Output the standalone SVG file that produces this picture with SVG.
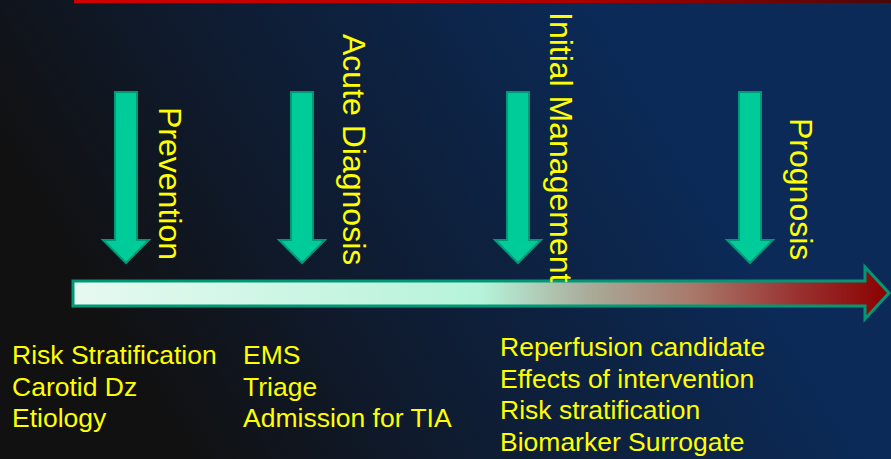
<svg xmlns="http://www.w3.org/2000/svg" width="891" height="459" viewBox="0 0 891 459">
  <defs>
    <linearGradient id="bg" gradientUnits="userSpaceOnUse" x1="150" y1="400" x2="650" y2="100">
      <stop offset="0" stop-color="#111111"/>
      <stop offset="0.35" stop-color="#0f1a2c"/>
      <stop offset="1" stop-color="#0b2a57"/>
    </linearGradient>
    <linearGradient id="redbar" gradientUnits="userSpaceOnUse" x1="74" y1="0" x2="891" y2="0">
      <stop offset="0" stop-color="#d00000"/>
      <stop offset="0.6" stop-color="#b00000"/>
      <stop offset="1" stop-color="#4a0808"/>
    </linearGradient>
    <linearGradient id="timeline" gradientUnits="userSpaceOnUse" x1="73" y1="0" x2="889" y2="0">
      <stop offset="0" stop-color="#e6f9f0"/>
      <stop offset="0.5" stop-color="#b6f3da"/>
      <stop offset="0.63" stop-color="#aaac9a"/>
      <stop offset="0.76" stop-color="#a8786a"/>
      <stop offset="0.89" stop-color="#9a3030"/>
      <stop offset="1" stop-color="#8b0000"/>
    </linearGradient>
    <style>
      .down { fill: #00cc99; stroke: #009977; stroke-width: 2; stroke-linejoin: miter; }
      .vlabel { font-family: "Liberation Sans", Arial, sans-serif; font-size: 32px; fill: #ffff00; }
      .list { font-family: "Liberation Sans", Arial, sans-serif; font-size: 26.5px; fill: #ffff00; }
    </style>
  </defs>

  <rect x="0" y="0" width="891" height="459" fill="url(#bg)"/>
  <rect x="74" y="0" width="817" height="3" fill="url(#redbar)"/>

  <g id="connectors">
    <path id="timeline-arrow" d="M73,281 H865 V267 L889,293 L865,319 V306 H73 Z" fill="url(#timeline)" stroke="#009977" stroke-width="3"/>
  </g>

  <g id="prevention">
    <path class="down" d="M115,92 H137 V240 H149 L126,263 L103,240 H115 Z"/>
    <text class="vlabel" transform="translate(159,107) rotate(90)">Prevention</text>
  </g>

  <g id="acute-diagnosis">
    <path class="down" d="M291,92 H313 V240 H325 L302,263 L279,240 H291 Z"/>
    <text class="vlabel" transform="translate(343,34) rotate(90)">Acute Diagnosis</text>
  </g>

  <g id="initial-management">
    <path class="down" d="M507,92 H529 V240 H541 L518,263 L495,240 H507 Z"/>
    <text class="vlabel" transform="translate(550,12) rotate(90)">Initial Management</text>
  </g>

  <g id="prognosis">
    <path class="down" d="M739,92 H761 V240 H773 L750,263 L727,240 H739 Z"/>
    <text class="vlabel" transform="translate(790,118) rotate(90)">Prognosis</text>
  </g>

  <g id="prevention-items">
    <text class="list" x="12" y="364">Risk Stratification</text>
    <text class="list" x="12" y="396">Carotid Dz</text>
    <text class="list" x="12" y="427">Etiology</text>
  </g>

  <g id="acute-items">
    <text class="list" x="243" y="364">EMS</text>
    <text class="list" x="243" y="396">Triage</text>
    <text class="list" x="243" y="427">Admission for TIA</text>
  </g>

  <g id="management-items">
    <text class="list" x="500" y="356">Reperfusion candidate</text>
    <text class="list" x="500" y="388">Effects of intervention</text>
    <text class="list" x="500" y="419">Risk stratification</text>
    <text class="list" x="500" y="451">Biomarker Surrogate</text>
  </g>
</svg>
